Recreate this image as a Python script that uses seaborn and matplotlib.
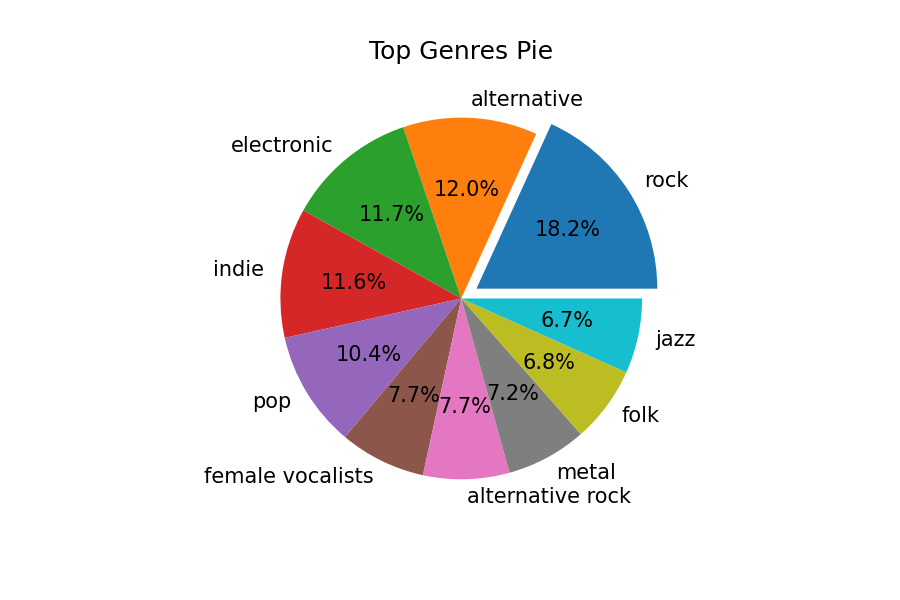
import matplotlib
matplotlib.use("Agg")
import matplotlib.pyplot as plt
import seaborn as sns

genres = ["rock", "alternative", "electronic", "indie", "pop",
          "female vocalists", "alternative rock", "metal", "folk", "jazz"]
shares = [18.2, 12.0, 11.7, 11.6, 10.4, 7.7, 7.7, 7.2, 6.8, 6.7]
explode = [0.1, 0, 0, 0, 0, 0, 0, 0, 0, 0]

plt.rcParams["font.size"] = 15
colors = sns.color_palette("tab10", len(genres))

fig, ax = plt.subplots(figsize=(9, 6), dpi=100)
fig.subplots_adjust(left=0.125, right=0.9, bottom=0.1258, top=0.8793)
ax.pie(shares, labels=genres, explode=explode, colors=colors, autopct="%1.1f%%")
ax.set_title("Top Genres Pie", fontsize=18, pad=10)
fig.savefig("out.png")
